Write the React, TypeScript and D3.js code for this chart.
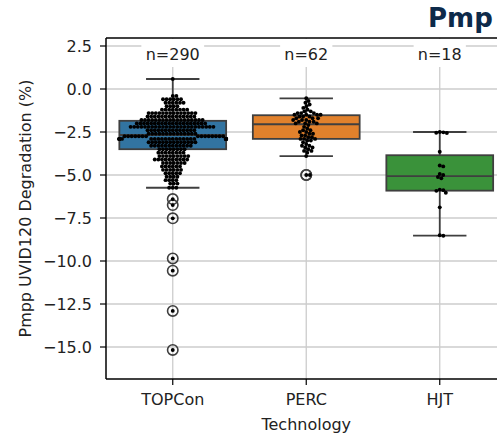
import React from "react";
import * as d3 from "d3";

// ---------- data ----------
const categories = ["TOPCon", "PERC", "HJT"];
const boxColors = ["#3274a1", "#e1812c", "#3a923a"];

// TOPCon: distinct values and how many modules sit at each value
const topconLevels = [
  0.58, -0.4, -0.6, -0.8, -1.0, -1.2, -1.4, -1.6, -1.8,
  -2.0, -2.2, -2.4, -2.6,
  -2.75, -2.9, -3.1, -3.3, -3.5,
  -3.7, -3.9, -4.1, -4.3, -4.5, -4.7, -4.9, -5.1, -5.3, -5.5, -5.74,
  -6.4, -6.75, -7.52, -9.85, -10.56, -12.9, -15.17,
];
const topconCounts = [
  1, 2, 6, 6, 4, 8, 14, 14, 18,
  20, 24, 14, 14,
  15, 24, 14, 12, 8,
  8, 9, 10, 7, 6, 6, 5, 4, 4, 3, 3,
  1, 1, 1, 1, 1, 1, 1,
];

const percLevels = [
  -0.54, -0.7, -0.8, -0.9, -1.0, -1.1, -1.2, -1.3, -1.4, -1.5,
  -1.6, -1.7, -1.8, -1.9, -2.0,
  -2.1, -2.2, -2.3, -2.4, -2.5, -2.6, -2.7, -2.8, -2.9,
  -3.0, -3.1, -3.2, -3.3, -3.4, -3.5, -3.6, -3.7, -3.9,
  -5.0,
];
const percCounts = [
  1, 1, 1, 1, 1, 1, 1, 2, 3, 4,
  3, 3, 3, 3, 3,
  1, 1, 1, 2, 2, 2, 2, 2, 3,
  2, 1, 1, 2, 2, 1, 2, 1, 1,
  2,
];

const hjtValues = [
  -2.5, -2.52, -2.54, -2.56, -3.65, -4.45, -4.5, -4.94, -5.0,
  -5.12, -5.19, -5.85, -5.88, -5.92, -6.03, -6.88, -8.5, -8.53,
];

const yTicks = [2.5, 0, -2.5, -5, -7.5, -10, -12.5, -15];

function expand(levels: number[], counts: number[]): number[] {
  const out: number[] = [];
  levels.forEach((v, i) => {
    for (let k = 0; k < counts[i]; k++) out.push(v);
  });
  return out;
}

const groups = [
  expand(topconLevels, topconCounts),
  expand(percLevels, percCounts),
  hjtValues,
];

// ---------- layout ----------
const W = 497;
const H = 437;
const AX_L = 106;
const AX_R = 506.5;
const AX_T = 38;
const AX_B = 379;
const FONT = "DejaVu Sans, sans-serif";
const LINE = "#3f3f3f";

function boxStats(vals: number[]) {
  const s = [...vals].sort((a, b) => a - b);
  const q1 = d3.quantile(s, 0.25)!;
  const med = d3.quantile(s, 0.5)!;
  const q3 = d3.quantile(s, 0.75)!;
  const iqr = q3 - q1;
  const lo = d3.min(s.filter((v) => v >= q1 - 1.5 * iqr))!;
  const hi = d3.max(s.filter((v) => v <= q3 + 1.5 * iqr))!;
  const fliers = s.filter((v) => v < lo || v > hi);
  return { q1, med, q3, lo, hi, fliers };
}

function swarm(vals: number[], y: (v: number) => number, d: number, half: number) {
  const pts = vals.map((v) => ({ v, y: y(v), x: 0 }));
  pts.sort((a, b) => a.y - b.y);
  const placed: { x: number; y: number }[] = [];
  for (const p of pts) {
    const nb = placed.filter((q) => Math.abs(q.y - p.y) < d);
    const cands = [0];
    for (const q of nb) {
      const dy = p.y - q.y;
      const dx = Math.sqrt(Math.max(0, d * d - dy * dy));
      cands.push(q.x + dx, q.x - dx);
    }
    cands.sort((a, b) => Math.abs(a) - Math.abs(b));
    for (const c of cands) {
      if (nb.every((q) => (q.x - c) ** 2 + (q.y - p.y) ** 2 >= d * d - 1e-6)) {
        p.x = c;
        break;
      }
    }
    placed.push(p);
  }
  return pts.map((p) => ({ ...p, x: Math.max(-half, Math.min(half, p.x)) }));
}

export default function App() {
  const x = d3.scaleBand<string>().domain(categories).range([AX_L, AX_R]).padding(0);
  const y = d3.scaleLinear().domain([-16.86, 2.965]).range([AX_B, AX_T]);
  const bw = x.bandwidth();
  const boxW = bw * 0.8;

  return (
    <svg
      width={W}
      height={H}
      style={{ position: "absolute", left: 0, top: 0, background: "#fff" }}
      fontFamily={FONT}
    >
      <rect x={0} y={0} width={W} height={H} fill="#fff" />
      {/* grid */}
      <g stroke="#cccccc" strokeWidth={1.3}>
        {yTicks.map((t) => (
          <line key={t} x1={AX_L} x2={AX_R} y1={y(t)} y2={y(t)} />
        ))}
        {categories.map((c) => (
          <line key={c} x1={x(c)! + bw / 2} x2={x(c)! + bw / 2} y1={AX_T} y2={AX_B} />
        ))}
      </g>

      {/* boxes */}
      {categories.map((c, i) => {
        const st = boxStats(groups[i]);
        const cx = x(c)! + bw / 2;
        return (
          <g key={c} stroke={LINE} strokeWidth={1.8}>
            <line x1={cx} x2={cx} y1={y(st.q3)} y2={y(st.hi)} />
            <line x1={cx} x2={cx} y1={y(st.q1)} y2={y(st.lo)} />
            <line x1={cx - boxW / 4} x2={cx + boxW / 4} y1={y(st.hi)} y2={y(st.hi)} />
            <line x1={cx - boxW / 4} x2={cx + boxW / 4} y1={y(st.lo)} y2={y(st.lo)} />
            <rect
              x={cx - boxW / 2}
              y={y(st.q3)}
              width={boxW}
              height={y(st.q1) - y(st.q3)}
              fill={boxColors[i]}
            />
            <line x1={cx - boxW / 2} x2={cx + boxW / 2} y1={y(st.med)} y2={y(st.med)} />
            {st.fliers.map((f, k) => (
              <circle key={k} cx={cx} cy={y(f)} r={5.2} fill="none" strokeWidth={1.6} />
            ))}
          </g>
        );
      })}

      {/* swarm points */}
      {categories.map((c, i) => {
        const cx = x(c)! + bw / 2;
        const pts = swarm(groups[i], y, 3.6, boxW / 2);
        return (
          <g key={c} fill="#000">
            {pts.map((p, k) => (
              <circle key={k} cx={cx + p.x} cy={p.y} r={1.95} />
            ))}
          </g>
        );
      })}

      {/* n labels */}
      {categories.map((c, i) => {
        const cx = x(c)! + bw / 2;
        const label = `n=${groups[i].length}`;
        const tw = label.length * 0.66 * 16;
        return (
          <g key={c}>
            <rect x={cx - tw / 2 - 5} y={AX_T + 1} width={tw + 10} height={28} fill="#fff" />
            <text x={cx} y={59.5} textAnchor="middle" fontSize={16} fill="#222">
              {label}
            </text>
          </g>
        );
      })}

      {/* spines */}
      <g stroke="#000" strokeWidth={1.5} fill="none">
        <line x1={AX_L} x2={AX_L} y1={AX_T} y2={AX_B} />
        <line x1={AX_L} x2={AX_R} y1={AX_B} y2={AX_B} />
        <line x1={AX_L} x2={AX_R} y1={AX_T} y2={AX_T} />
      </g>

      {/* y axis ticks */}
      {yTicks.map((t) => (
        <g key={t}>
          <line x1={AX_L - 6} x2={AX_L} y1={y(t)} y2={y(t)} stroke="#000" strokeWidth={1.2} />
          <text
            x={AX_L - 14}
            y={y(t)}
            dy="0.36em"
            textAnchor="end"
            fontSize={16}
            fill="#222"
          >
            {d3.format(".1f")(t).replace("-", "\u2212")}
          </text>
        </g>
      ))}

      {/* x axis ticks */}
      {categories.map((c) => {
        const cx = x(c)! + bw / 2;
        return (
          <g key={c}>
            <line x1={cx} x2={cx} y1={AX_B} y2={AX_B + 6} stroke="#000" strokeWidth={1.2} />
            <text x={cx} y={405} textAnchor="middle" fontSize={16} fill="#222">
              {c}
            </text>
          </g>
        );
      })}

      <text x={(AX_L + AX_R) / 2} y={430} textAnchor="middle" fontSize={16} fill="#222">
        Technology
      </text>
      <text
        transform={`translate(31, ${(AX_T + AX_B) / 2}) rotate(-90)`}
        textAnchor="middle"
        fontSize={16}
        fill="#222"
      >
        Pmpp UVID120 Degradation (%)
      </text>

      <text x={428} y={27} fontSize={26} fontWeight="bold" fill="#0d2a4a">
        Pmp
      </text>
    </svg>
  );
}
